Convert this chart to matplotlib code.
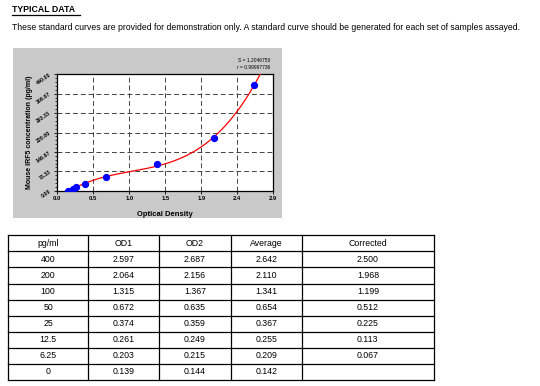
import matplotlib
matplotlib.use("Agg")
import matplotlib.pyplot as plt
import numpy as np
from matplotlib.patches import Rectangle

plt.rcParams['font.family'] = ['Liberation Sans', 'DejaVu Sans']

# standard curve data
conc = [400, 200, 100, 50, 25, 12.5, 6.25, 0]
od1 = [2.597, 2.064, 1.315, 0.672, 0.374, 0.261, 0.203, 0.139]
od2 = [2.687, 2.156, 1.367, 0.635, 0.359, 0.249, 0.215, 0.144]
avg = [2.642, 2.110, 1.341, 0.654, 0.367, 0.255, 0.209, 0.142]
corrected = [2.500, 1.968, 1.199, 0.512, 0.225, 0.113, 0.067, None]

conc_labels = ['400', '200', '100', '50', '25', '12.5', '6.25', '0']
headers = ['pg/ml', 'OD1', 'OD2', 'Average', 'Corrected']

xticks = [0.0, 0.4833, 0.9667, 1.45, 1.9333, 2.4167, 2.9]
xticklabels = ['0.0', '0.5', '1.0', '1.5', '1.9', '2.4', '2.9']
yticks = [0.0, 73.33, 146.67, 220.0, 293.33, 366.67, 440.0]
yticklabels = ['0.00', '73.33', '146.67', '220.00', '293.33', '366.67', '440.00']

W, H = 540, 386
fig = plt.figure(figsize=(W / 100, H / 100), dpi=100)


def fx(px):
    return px / W


def fy(py):
    return 1 - py / H


# header texts
fig.text(fx(12), fy(12), 'TYPICAL DATA', fontsize=6.3, fontweight='bold', va='baseline')
fig.add_artist(plt.Line2D([fx(12), fx(80)], [fy(14.5), fy(14.5)], color='black', lw=0.9))
fig.text(fx(12), fy(30), 'These standard curves are provided for demonstration only. '
         'A standard curve should be generated for each set of samples assayed.',
         fontsize=6.2, va='baseline')

# grey panel behind the chart
fig.add_artist(Rectangle((fx(13), fy(218)), fx(282) - fx(13), fy(48) - fy(218),
                         transform=fig.transFigure, facecolor='#c9c9c9', edgecolor='none', zorder=0))

ax = fig.add_axes([fx(57.3), fy(190.7), fx(273.3) - fx(57.3), fy(74.3) - fy(190.7)])
ax.set_facecolor('white')

# fitted curve through the standards
coef = np.polyfit(avg, conc, 3)
xs = np.linspace(min(avg), 2.9, 300)
ax.plot(xs, np.polyval(coef, xs), color='red', lw=0.9, zorder=3)
ax.scatter(avg, conc, s=18, color='blue', zorder=4)

ax.set_xlim(0, 2.9)
ax.set_ylim(0, 440)
ax.set_xticks(xticks)
ax.set_xticklabels(xticklabels, fontsize=4.2, fontweight='bold')
ax.set_yticks(yticks)
ax.set_yticklabels(yticklabels, fontsize=3.8, fontweight='bold', rotation=35)
ax.set_yticks(np.arange(0, 440, 440 / 30), minor=True)
ax.tick_params(axis='y', which='minor', length=1.5, width=0.5)
ax.tick_params(axis='both', which='major', length=2.5, width=0.6, pad=1.5)
ax.grid(True, which='major', linestyle=(0, (5, 3)), color='#444444', lw=0.7)
for s in ax.spines.values():
    s.set_linewidth(0.9)
ax.set_xlabel('Optical Density', fontsize=5.5, fontweight='bold', labelpad=7)
ax.set_ylabel('Mouse IRF5 concentration (pg/ml)', fontsize=5, fontweight='bold', labelpad=2)

fig.text(fx(270), fy(62), 'S = 1.2046750', fontsize=3.5, ha='right', va='baseline')
fig.text(fx(270), fy(69), 'r = 0.99997736', fontsize=3.5, ha='right', va='baseline')

# table
tab = fig.add_axes([fx(8), fy(380), fx(434) - fx(8), fy(235.3) - fy(380)])
tab.set_xlim(8, 434)
tab.set_ylim(380, 235.3)
tab.axis('off')
col_edges = [8, 88.3, 159.3, 230.7, 301.7, 434]
nrows = len(conc) + 1
row_h = (380 - 235.3) / nrows
for xe in col_edges:
    tab.plot([xe, xe], [235.3, 380], color='black', lw=0.9, clip_on=False)
for i in range(nrows + 1):
    yy = 235.3 + i * row_h
    tab.plot([8, 434], [yy, yy], color='black', lw=0.9, clip_on=False)

rows = [headers]
for i in range(len(conc)):
    c = corrected[i]
    rows.append([conc_labels[i], f'{od1[i]:.3f}', f'{od2[i]:.3f}', f'{avg[i]:.3f}',
                 '' if c is None else f'{c:.3f}'])
for r, row in enumerate(rows):
    yc = 235.3 + (r + 0.5) * row_h
    for cidx, val in enumerate(row):
        xc = (col_edges[cidx] + col_edges[cidx + 1]) / 2
        tab.text(xc, yc, val, fontsize=6.3, ha='center', va='center')

fig.savefig('out.png', dpi=100)
